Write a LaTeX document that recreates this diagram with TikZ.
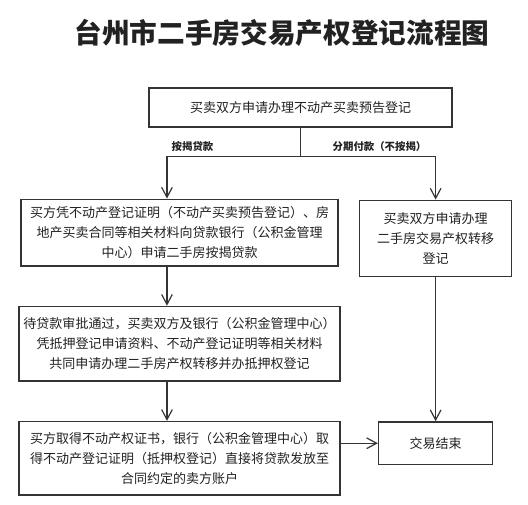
\documentclass[tikz,border=0pt]{standalone}
\usepackage{fontspec}
\setmainfont{Noto Sans CJK SC}
\usepackage{tikz}
\usetikzlibrary{arrows.meta,positioning}
\definecolor{inkgrey}{RGB}{34,34,34}
\definecolor{linegrey}{RGB}{52,52,52}
\tikzset{
  stepbox/.style={draw=linegrey,line width=1.1pt,fill=white,align=center,
    text=inkgrey,inner sep=3pt,font=\fontsize{9.75pt}{15pt}\selectfont},
  flow/.style={-{Straight Barb[length=7.5pt,width=8pt]},line width=0.9pt,draw=linegrey},
  link/.style={line width=0.9pt,draw=linegrey},
  branchlabel/.style={font=\bfseries\fontsize{7.8pt}{9pt}\selectfont,
    text=inkgrey,inner sep=1pt},
  titletext/.style={font=\bfseries\fontsize{20.75pt}{24pt}\selectfont,text=inkgrey}
}

\begin{document}
\begin{tikzpicture}[x=0.75pt,y=-0.75pt]
  \useasboundingbox (0,0) rectangle (528,504);
  \node[titletext] (title) at (282,33) {台州市二手房交易产权登记流程图};
  \node[stepbox,minimum width=227pt,minimum height=29pt] (apply) at (300.5,107.5)
    {买卖双方申请办理不动产买卖预告登记};
  \node[stepbox,minimum width=238pt,minimum height=50pt,below=53.25pt of apply,
    xshift=-90.75pt] (loanapp)
    {买方凭不动产登记证明（不动产买卖预告登记）、房\\
     地产买卖合同等相关材料向贷款银行（公积金管理\\
     中心）申请二手房按揭贷款};
  \node[stepbox,minimum width=114pt,minimum height=57pt,anchor=north west] (transfer)
    at ([xshift=15pt,yshift=-0.75pt]loanapp.north east)
    {买卖双方申请办理\\二手房交易产权转移\\登记};
  \node[stepbox,minimum width=241pt,minimum height=56pt,below=29.25pt of loanapp] (mortgage)
    {待贷款审批通过，买卖双方及银行（公积金管理中心）\\
     凭抵押登记申请资料、不动产登记证明等相关材料\\
     共同申请办理二手房产权转移并办抵押权登记};
  \node[stepbox,minimum width=241pt,minimum height=55pt,below=29.25pt of mortgage] (payout)
    {买方取得不动产权证书，银行（公积金管理中心）取\\
     得不动产登记证明（抵押权登记）直接将贷款发放至\\
     合同约定的卖方账户};
  \node[stepbox,minimum width=85.5pt,minimum height=32pt,right=27.75pt of payout,
    yshift=11.25pt] (done) {交易结束};
  % branches
  \draw[link] (apply.south) -- ++(0,29) coordinate (split);
  \draw[flow] (split) -| ([xshift=-9.4pt]loanapp.north);
  \draw[flow] (split) -| (transfer.north);
  \node[branchlabel] (loanlbl) at ([xshift=-81pt,yshift=7.5pt]split) {按揭贷款};
  \node[branchlabel] (cashlbl) at ([xshift=59.25pt,yshift=7.5pt]split) {分期付款（不按揭）};
  % main line
  \draw[flow] ([xshift=-9.4pt]loanapp.south) -- ([xshift=-9.4pt]mortgage.north);
  \draw[flow] ([xshift=-9.4pt]mortgage.south) -- ([xshift=-9.4pt]payout.north);
  \draw[flow] (payout.east |- done.west) -- (done.west);
  \draw[flow] (transfer.south) -- (done.north);
\end{tikzpicture}
\end{document}
